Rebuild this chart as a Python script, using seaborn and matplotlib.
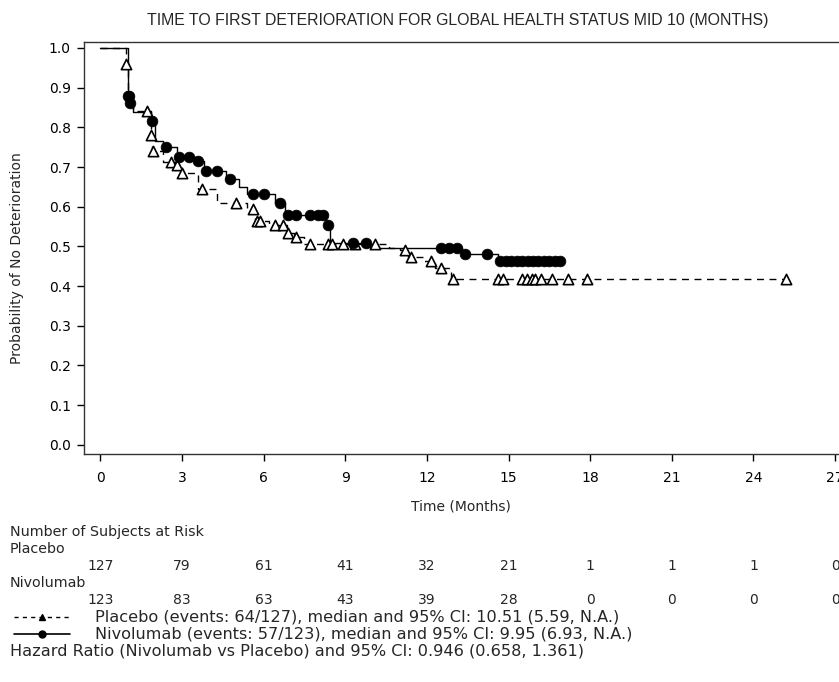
import numpy as np
import pandas as pd
import seaborn as sns
import matplotlib.pyplot as plt
from matplotlib.lines import Line2D
from matplotlib.transforms import blended_transform_factory

# Kaplan-Meier step knots (time in months, probability after the step)
placebo_t = [0, 0.95, 1.0, 1.2, 1.85, 1.9, 2.3, 2.75, 2.95, 3.6, 4.3, 5.4, 5.7, 6.2,
             6.85, 7.1, 7.5, 10.6, 11.0, 11.3, 11.9, 12.3, 12.9, 25.2]
placebo_s = [1.0, 0.96, 0.87, 0.84, 0.78, 0.74, 0.713, 0.705, 0.685, 0.645, 0.61, 0.595,
             0.565, 0.555, 0.535, 0.524, 0.507, 0.497, 0.49, 0.474, 0.463, 0.446, 0.417, 0.417]
placebo_cens = [0.96, 1.73, 1.88, 1.93, 2.6, 2.8, 3.0, 3.75, 4.97, 5.6, 5.75, 5.86, 6.4, 6.7,
                6.9, 7.2, 7.7, 8.35, 8.5, 8.9, 9.35, 10.1, 11.2, 11.4, 12.15, 12.5, 12.97,
                14.6, 14.8, 15.5, 15.67, 15.86, 15.97, 16.2, 16.6, 17.2, 17.9, 25.2]

nivo_t = [0, 1.0, 1.08, 1.2, 1.85, 2.0, 2.3, 2.8, 3.5, 3.8, 4.6, 5.1, 5.4, 6.4, 6.8, 8.3,
          8.45, 9.9, 13.3, 14.6, 17.0]
nivo_s = [1.0, 0.878, 0.862, 0.838, 0.817, 0.765, 0.75, 0.725, 0.715, 0.69, 0.67, 0.65,
          0.632, 0.61, 0.58, 0.554, 0.509, 0.497, 0.48, 0.463, 0.463]
nivo_cens = [1.02, 1.05, 1.1, 1.89, 2.41, 2.9, 3.26, 3.6, 3.9, 4.3, 4.75, 5.6, 6.0, 6.6,
             6.9, 7.2, 7.7, 8.0, 8.2, 8.35, 9.3, 9.77, 12.5, 12.8, 13.1, 13.4, 14.2,
             14.7, 14.9, 15.1, 15.3, 15.5, 15.7, 15.9, 16.1, 16.3, 16.5, 16.7, 16.9]

risk_times = [0, 3, 6, 9, 12, 15, 18, 21, 24, 27]
risk_placebo = [127, 79, 61, 41, 32, 21, 1, 1, 1, 0]
risk_nivo = [123, 83, 63, 43, 39, 28, 0, 0, 0, 0]

title = "TIME TO FIRST DETERIORATION FOR GLOBAL HEALTH STATUS MID 10 (MONTHS)"
placebo_label = "Placebo (events: 64/127), median and 95% CI: 10.51 (5.59, N.A.)"
nivo_label = "Nivolumab (events: 57/123), median and 95% CI: 9.95 (6.93, N.A.)"
hr_label = "Hazard Ratio (Nivolumab vs Placebo) and 95% CI: 0.946 (0.658, 1.361)"

W, H = 839, 682


def step_value(times, surv, t):
    i = np.searchsorted(times, t, side="right") - 1
    return np.asarray(surv)[i]


def fx(px):
    return px / W


def fy(py):
    return 1 - py / H


sns.set_style("ticks")
plt.rcParams["font.family"] = ["DejaVu Sans"]

fig = plt.figure(figsize=(W / 100, H / 100), dpi=100)
ax = fig.add_axes([fx(84), fy(454), fx(839 - 84) + 0.01, (454 - 42) / H])

pl = pd.DataFrame({"t": placebo_t, "s": placebo_s})
nv = pd.DataFrame({"t": nivo_t, "s": nivo_s})
sns.lineplot(data=pl, x="t", y="s", drawstyle="steps-post", estimator=None, sort=False,
             color="black", linewidth=1, linestyle=(0, (5, 4)), ax=ax)
sns.lineplot(data=nv, x="t", y="s", drawstyle="steps-post", estimator=None, sort=False,
             color="black", linewidth=1, ax=ax)

pc = pd.DataFrame({"t": placebo_cens,
                   "s": [step_value(placebo_t, placebo_s, t) for t in placebo_cens]})
nc = pd.DataFrame({"t": nivo_cens,
                   "s": [step_value(nivo_t, nivo_s, t) for t in nivo_cens]})
sns.scatterplot(data=pc, x="t", y="s", marker="^", s=55, facecolor="white",
                edgecolor="black", linewidth=1.2, zorder=3, ax=ax)
sns.scatterplot(data=nc, x="t", y="s", marker="o", s=60, color="black",
                edgecolor="black", linewidth=0.5, zorder=4, ax=ax)

ax.set_xlim(-0.6, 27.45)
ax.set_ylim(-0.023, 1.015)
ax.set_xticks(risk_times)
ax.set_yticks(np.arange(0, 1.01, 0.1))
ax.set_yticklabels([f"{v:.1f}" for v in np.arange(0, 1.01, 0.1)])
ax.tick_params(labelsize=10, length=5, width=1, colors="black")
ax.tick_params(axis="x", pad=7)
ax.tick_params(axis="y", pad=4.5)
ax.set_xlabel("")
ax.set_ylabel("")
ax.spines["right"].set_visible(False)
for sp in ["left", "bottom", "top"]:
    ax.spines[sp].set_linewidth(1)
    ax.spines[sp].set_color("#333333")

fig.text(fx(458), fy(21), title, ha="center", va="center", fontsize=11.4,
         family=["Liberation Sans", "DejaVu Sans"])
fig.text(fx(17), fy(258), "Probability of No Deterioration", rotation=90,
         ha="center", va="center", fontsize=10)
fig.text(fx(461), fy(507), "Time (Months)", ha="center", va="center", fontsize=10)

# number at risk table
tr = blended_transform_factory(ax.transData, fig.transFigure)
fig.text(fx(10), fy(532), "Number of Subjects at Risk", ha="left", va="center", fontsize=10.3)
fig.text(fx(10), fy(549), "Placebo", ha="left", va="center", fontsize=10.3)
for t, n in zip(risk_times, risk_placebo):
    ax.text(t, fy(566), str(n), transform=tr, ha="center", va="center", fontsize=10)
fig.text(fx(10), fy(583), "Nivolumab", ha="left", va="center", fontsize=10.3)
for t, n in zip(risk_times, risk_nivo):
    ax.text(t, fy(600), str(n), transform=tr, ha="center", va="center", fontsize=10)

# legend rows
fig.add_artist(Line2D([fx(14), fx(70)], [fy(617), fy(617)], color="black", lw=1,
                      linestyle=(0, (3, 3)), transform=fig.transFigure))
fig.add_artist(Line2D([fx(42)], [fy(617)], color="black", marker="^", markersize=5,
                      transform=fig.transFigure))
fig.text(fx(95), fy(617), placebo_label, ha="left", va="center", fontsize=11.6)
fig.add_artist(Line2D([fx(14), fx(70)], [fy(634), fy(634)], color="black", lw=1.2,
                      transform=fig.transFigure))
fig.add_artist(Line2D([fx(42)], [fy(634)], color="black", marker="o", markersize=5,
                      transform=fig.transFigure))
fig.text(fx(95), fy(634), nivo_label, ha="left", va="center", fontsize=11.6)
fig.text(fx(10), fy(651), hr_label, ha="left", va="center", fontsize=11.6)

fig.savefig("out.png", dpi=100)
